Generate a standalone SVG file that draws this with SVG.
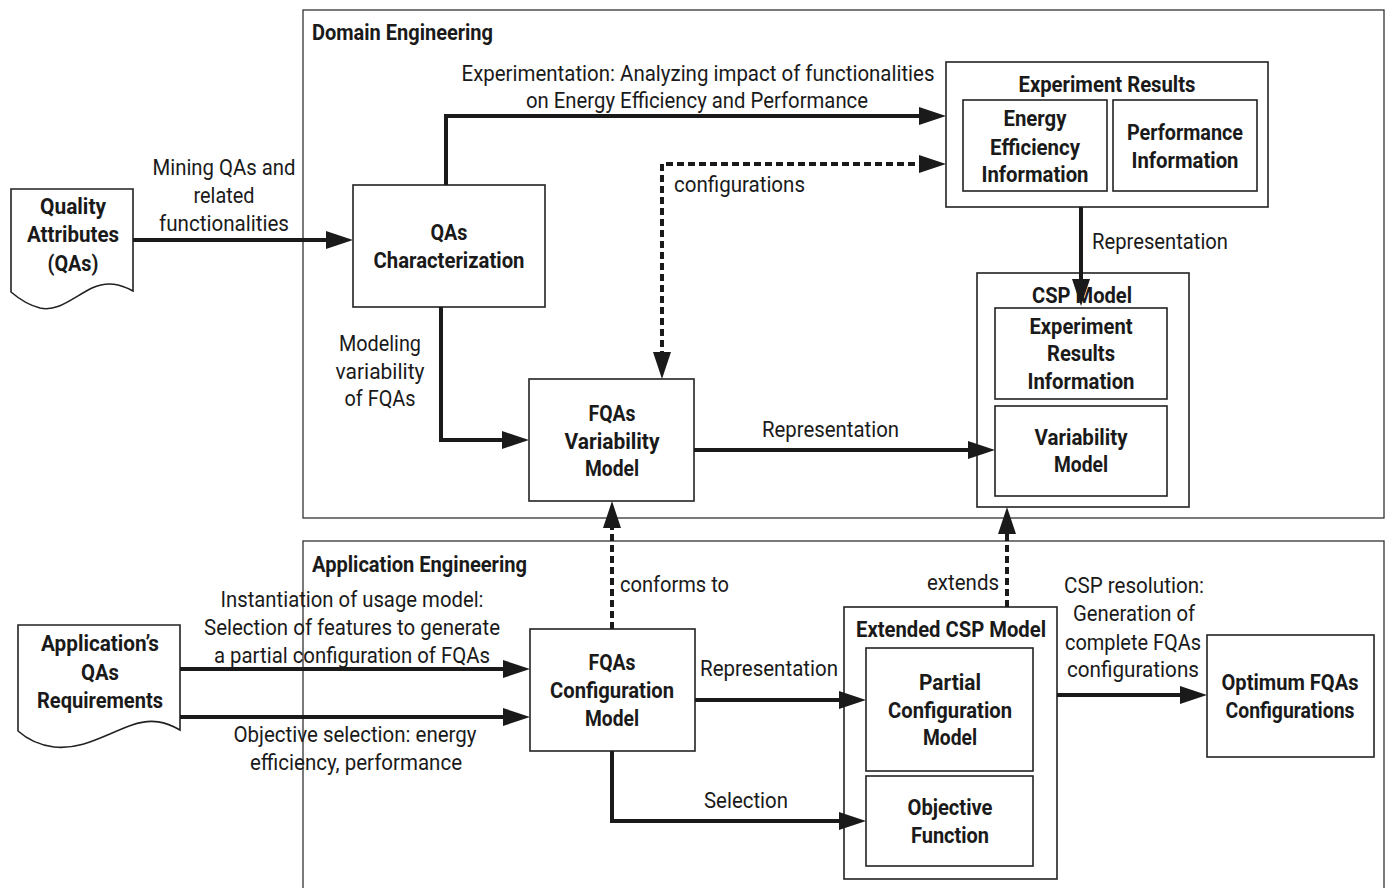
<svg xmlns="http://www.w3.org/2000/svg" width="1389" height="888" viewBox="0 0 1389 888">
  <style>
    .frame { fill: none; stroke: #333; stroke-width: 1.3; }
    .box { fill: #fff; stroke: #222; stroke-width: 1.6; }
    .inner { fill: #fff; stroke: #222; stroke-width: 1.6; }
    text { font-family: "Roboto", "Liberation Sans", sans-serif; font-size: 22px; fill: #1a1a1a; }
    .b { font-weight: bold; text-anchor: middle; }
    .bl { font-weight: bold; }
    .c { text-anchor: middle; }
    .e { text-anchor: end; }
    .flow { fill: none; stroke: #1a1a1a; stroke-width: 4; marker-end: url(#ah); }
    .dot { fill: none; stroke: #1a1a1a; stroke-width: 4; stroke-dasharray: 7 4; marker-end: url(#ah); }
  </style>
  <defs>
    <marker id="ah" viewBox="0 0 27 18" markerWidth="27" markerHeight="18" refX="17" refY="9" orient="auto-start-reverse" markerUnits="userSpaceOnUse">
      <path d="M0,0 L27,9 L0,18 Z" fill="#1a1a1a"/>
    </marker>
  </defs>
  <rect width="1389" height="888" fill="#fff"/>

  <!-- engineering phases -->
  <g id="domain-engineering">
    <rect class="frame" x="303" y="10" width="1081" height="508"/>
    <text class="bl" x="312" y="40" textLength="181" lengthAdjust="spacingAndGlyphs">Domain Engineering</text>
  </g>
  <g id="application-engineering">
    <rect class="frame" x="303" y="541" width="1081" height="360"/>
    <text class="bl" x="312" y="572" textLength="215" lengthAdjust="spacingAndGlyphs">Application Engineering</text>
  </g>

  <!-- input documents -->
  <g id="quality-attributes">
    <path class="box" d="M11,189 H133 V291 C120,284 108,281 92,288 C72,298 58,312 40,308 C28,305 18,298 11,292 Z"/>
    <text class="b" x="73" y="214" textLength="66" lengthAdjust="spacingAndGlyphs">Quality</text>
    <text class="b" x="73" y="242" textLength="92" lengthAdjust="spacingAndGlyphs">Attributes</text>
    <text class="b" x="73" y="270.5" textLength="51" lengthAdjust="spacingAndGlyphs">(QAs)</text>
  </g>
  <g id="app-qas-requirements">
    <path class="box" d="M18,625 H180 V730 C166,722 152,718 132,725 C104,735 82,750 54,747 C38,745 27,739 18,731 Z"/>
    <text class="b" x="100" y="651" textLength="118" lengthAdjust="spacingAndGlyphs">Application’s</text>
    <text class="b" x="100" y="680" textLength="38" lengthAdjust="spacingAndGlyphs">QAs</text>
    <text class="b" x="100" y="708" textLength="126" lengthAdjust="spacingAndGlyphs">Requirements</text>
  </g>

  <!-- domain engineering nodes -->
  <g id="qas-characterization">
    <rect class="box" x="353" y="185" width="192" height="122"/>
    <text class="b" x="449" y="240" textLength="37" lengthAdjust="spacingAndGlyphs">QAs</text>
    <text class="b" x="449" y="268" textLength="151" lengthAdjust="spacingAndGlyphs">Characterization</text>
  </g>
  <g id="experiment-results">
    <rect class="box" x="946" y="62" width="322" height="145"/>
    <text class="b" x="1107" y="92" textLength="177" lengthAdjust="spacingAndGlyphs">Experiment Results</text>
    <rect class="inner" x="963" y="100" width="144" height="91"/>
    <text class="b" x="1035" y="126" textLength="63" lengthAdjust="spacingAndGlyphs">Energy</text>
    <text class="b" x="1035" y="155" textLength="90" lengthAdjust="spacingAndGlyphs">Efficiency</text>
    <text class="b" x="1035" y="182" textLength="107" lengthAdjust="spacingAndGlyphs">Information</text>
    <rect class="inner" x="1113" y="100" width="144" height="91"/>
    <text class="b" x="1185" y="140" textLength="116" lengthAdjust="spacingAndGlyphs">Performance</text>
    <text class="b" x="1185" y="168" textLength="107" lengthAdjust="spacingAndGlyphs">Information</text>
  </g>
  <g id="csp-model">
    <rect class="box" x="977" y="273" width="212" height="234"/>
    <text class="b" x="1082" y="303" textLength="100" lengthAdjust="spacingAndGlyphs">CSP Model</text>
    <rect class="inner" x="995" y="308" width="172" height="91"/>
    <text class="b" x="1081" y="334" textLength="103" lengthAdjust="spacingAndGlyphs">Experiment</text>
    <text class="b" x="1081" y="361" textLength="68" lengthAdjust="spacingAndGlyphs">Results</text>
    <text class="b" x="1081" y="389" textLength="107" lengthAdjust="spacingAndGlyphs">Information</text>
    <rect class="inner" x="995" y="406" width="172" height="90"/>
    <text class="b" x="1081" y="445" textLength="93" lengthAdjust="spacingAndGlyphs">Variability</text>
    <text class="b" x="1081" y="472" textLength="54" lengthAdjust="spacingAndGlyphs">Model</text>
  </g>
  <g id="fqas-variability-model">
    <rect class="box" x="529" y="379" width="165" height="122"/>
    <text class="b" x="612" y="421" textLength="47" lengthAdjust="spacingAndGlyphs">FQAs</text>
    <text class="b" x="612" y="449" textLength="95" lengthAdjust="spacingAndGlyphs">Variability</text>
    <text class="b" x="612" y="476" textLength="54" lengthAdjust="spacingAndGlyphs">Model</text>
  </g>

  <!-- application engineering nodes -->
  <g id="fqas-configuration-model">
    <rect class="box" x="530" y="629" width="165" height="122"/>
    <text class="b" x="612" y="670" textLength="47" lengthAdjust="spacingAndGlyphs">FQAs</text>
    <text class="b" x="612" y="698" textLength="124" lengthAdjust="spacingAndGlyphs">Configuration</text>
    <text class="b" x="612" y="726" textLength="54" lengthAdjust="spacingAndGlyphs">Model</text>
  </g>
  <g id="extended-csp-model">
    <rect class="box" x="844" y="607" width="213" height="272"/>
    <text class="b" x="951" y="637" textLength="190" lengthAdjust="spacingAndGlyphs">Extended CSP Model</text>
    <rect class="inner" x="866" y="648" width="167" height="123"/>
    <text class="b" x="950" y="690" textLength="62" lengthAdjust="spacingAndGlyphs">Partial</text>
    <text class="b" x="950" y="718" textLength="124" lengthAdjust="spacingAndGlyphs">Configuration</text>
    <text class="b" x="950" y="745" textLength="54" lengthAdjust="spacingAndGlyphs">Model</text>
    <rect class="inner" x="866" y="776" width="167" height="90"/>
    <text class="b" x="950" y="815" textLength="85" lengthAdjust="spacingAndGlyphs">Objective</text>
    <text class="b" x="950" y="843" textLength="78" lengthAdjust="spacingAndGlyphs">Function</text>
  </g>
  <g id="optimum-configurations">
    <rect class="box" x="1207" y="635" width="167" height="122"/>
    <text class="b" x="1290" y="690" textLength="137" lengthAdjust="spacingAndGlyphs">Optimum FQAs</text>
    <text class="b" x="1290" y="718" textLength="129" lengthAdjust="spacingAndGlyphs">Configurations</text>
  </g>

  <!-- connectors and their labels -->
  <g id="connectors">
    <path class="flow" d="M133,240 H343"/>
    <path class="flow" d="M446,185 V116 H936"/>
    <path class="dot" d="M662,369 V164 H936" marker-start="url(#ah)"/>
    <path class="flow" d="M1081,207 V296"/>
    <path class="flow" d="M441,307 V440 H519"/>
    <path class="flow" d="M694,450 H985"/>
    <path class="flow" d="M180,669 H520"/>
    <path class="flow" d="M180,717 H520"/>
    <path class="dot" d="M612,629 V511"/>
    <path class="flow" d="M695,700 H856"/>
    <path class="flow" d="M612,751 V821 H856"/>
    <path class="dot" d="M1007,607 V517"/>
    <path class="flow" d="M1057,695 H1197"/>

    <text class="c" x="224" y="175" textLength="143" lengthAdjust="spacingAndGlyphs">Mining QAs and</text>
    <text class="c" x="224" y="203" textLength="61" lengthAdjust="spacingAndGlyphs">related</text>
    <text class="c" x="224" y="231" textLength="130" lengthAdjust="spacingAndGlyphs">functionalities</text>
    <text class="c" x="698" y="81" textLength="473" lengthAdjust="spacingAndGlyphs">Experimentation: Analyzing impact of functionalities</text>
    <text class="c" x="697" y="108" textLength="342" lengthAdjust="spacingAndGlyphs">on Energy Efficiency and Performance</text>
    <text x="674" y="192" textLength="131" lengthAdjust="spacingAndGlyphs">configurations</text>
    <text x="1092" y="249" textLength="136" lengthAdjust="spacingAndGlyphs">Representation</text>
    <text class="c" x="380" y="351" textLength="82" lengthAdjust="spacingAndGlyphs">Modeling</text>
    <text class="c" x="380" y="379" textLength="89" lengthAdjust="spacingAndGlyphs">variability</text>
    <text class="c" x="380" y="406" textLength="71" lengthAdjust="spacingAndGlyphs">of FQAs</text>
    <text x="762" y="437" textLength="137" lengthAdjust="spacingAndGlyphs">Representation</text>
    <text class="c" x="352" y="607" textLength="263" lengthAdjust="spacingAndGlyphs">Instantiation of usage model:</text>
    <text class="c" x="352" y="635" textLength="296" lengthAdjust="spacingAndGlyphs">Selection of features to generate</text>
    <text class="c" x="352" y="663" textLength="276" lengthAdjust="spacingAndGlyphs">a partial configuration of FQAs</text>
    <text class="c" x="355" y="742" textLength="243" lengthAdjust="spacingAndGlyphs">Objective selection: energy</text>
    <text class="c" x="356" y="770" textLength="212" lengthAdjust="spacingAndGlyphs">efficiency, performance</text>
    <text x="620" y="592" textLength="109" lengthAdjust="spacingAndGlyphs">conforms to</text>
    <text x="700" y="676" textLength="138" lengthAdjust="spacingAndGlyphs">Representation</text>
    <text x="704" y="808" textLength="84" lengthAdjust="spacingAndGlyphs">Selection</text>
    <text class="e" x="999" y="590" textLength="72" lengthAdjust="spacingAndGlyphs">extends</text>
    <text class="c" x="1134" y="593" textLength="140" lengthAdjust="spacingAndGlyphs">CSP resolution:</text>
    <text class="c" x="1134" y="621" textLength="122" lengthAdjust="spacingAndGlyphs">Generation of</text>
    <text class="c" x="1133" y="650" textLength="136" lengthAdjust="spacingAndGlyphs">complete FQAs</text>
    <text class="c" x="1133" y="677" textLength="132" lengthAdjust="spacingAndGlyphs">configurations</text>
  </g>
</svg>
